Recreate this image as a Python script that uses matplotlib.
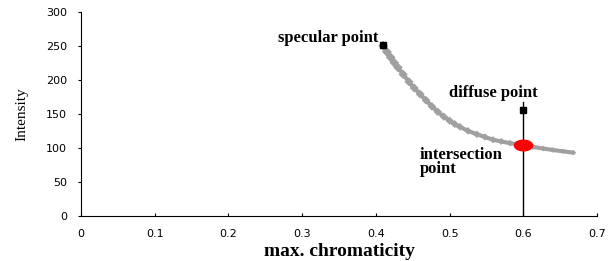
import numpy as np
import matplotlib
matplotlib.use("Agg")
import matplotlib.pyplot as plt
from matplotlib.path import Path

# curve of intensity vs max. chromaticity
chroma = [0.410, 0.415, 0.420, 0.425, 0.430, 0.437, 0.445, 0.452, 0.460, 0.468,
          0.476, 0.484, 0.492, 0.500, 0.507, 0.514, 0.525, 0.537, 0.548, 0.559,
          0.570, 0.582, 0.591, 0.600, 0.613, 0.627, 0.640, 0.654, 0.668]
intens = [250, 241, 233, 225, 218, 208, 197, 188, 179, 170,
          161, 153, 146, 140, 135, 131, 125, 120, 116, 112,
          109.5, 107, 105.5, 104, 101.5, 99, 97, 95, 93]

specular = (0.41, 251)
diffuse = (0.60, 156)
intersection = (0.60, 105)
line_top = 167

xticks = [0, 0.1, 0.2, 0.3, 0.4, 0.5, 0.6, 0.7]
xtick_labels = ["0", "0.1", "0.2", "0.3", "0.4", "0.5", "0.6", "0.7"]
yticks = [0, 50, 100, 150, 200, 250, 300]

fig = plt.figure(figsize=(6.1, 2.61), dpi=100)
ax = fig.add_axes([0.1328, 0.1724, 0.8459, 0.7827])

# gray curve, thicker near the specular end
ax.plot(chroma, intens, color='#a0a0a0', lw=3.0, solid_capstyle='round',
        solid_joinstyle='round', zorder=2)
sizes = np.linspace(26, 7, len(chroma))
ax.scatter(chroma, intens, s=sizes, color='#a0a0a0', marker='D', linewidths=0, zorder=2)

# vertical line through the diffuse point
ax.plot([diffuse[0], diffuse[0]], [0, line_top], color='black', lw=1.0, zorder=3)

ax.plot(*specular, marker='s', color='black', ms=5, zorder=4)
ax.plot(*diffuse, marker='s', color='black', ms=5, zorder=4)

# red ellipse marker
t = np.linspace(0, 2 * np.pi, 60)
ell = Path(np.c_[1.7 * np.cos(t), np.sin(t)])
ax.plot(*intersection, marker=ell, color='red', ms=13, zorder=5)

bold = dict(family='Liberation Serif', fontweight='bold', fontsize=12)
ax.text(0.403, 256, "specular point", ha='right', va='baseline', **bold)
ax.text(0.560, 175, "diffuse point", ha='center', va='baseline', **bold)
ax.text(0.460, 101, "intersection\npoint", ha='left', va='top', linespacing=0.85, **bold)

ax.set_xlim(0, 0.7)
ax.set_ylim(0, 300)
ax.set_xticks(xticks)
ax.set_xticklabels(xtick_labels)
ax.set_yticks(yticks)
for s in ['top', 'right']:
    ax.spines[s].set_visible(False)
ax.tick_params(axis='x', direction='in', length=2.5, labelsize=8, pad=9)
ax.tick_params(axis='y', direction='out', length=2, labelsize=8, pad=8)

ax.set_xlabel("max. chromaticity", family='Liberation Serif', fontweight='bold', fontsize=14, labelpad=3)
ax.set_ylabel("Intensity", family='Liberation Serif', fontsize=11, labelpad=13)

fig.savefig("out.png", dpi=100)
